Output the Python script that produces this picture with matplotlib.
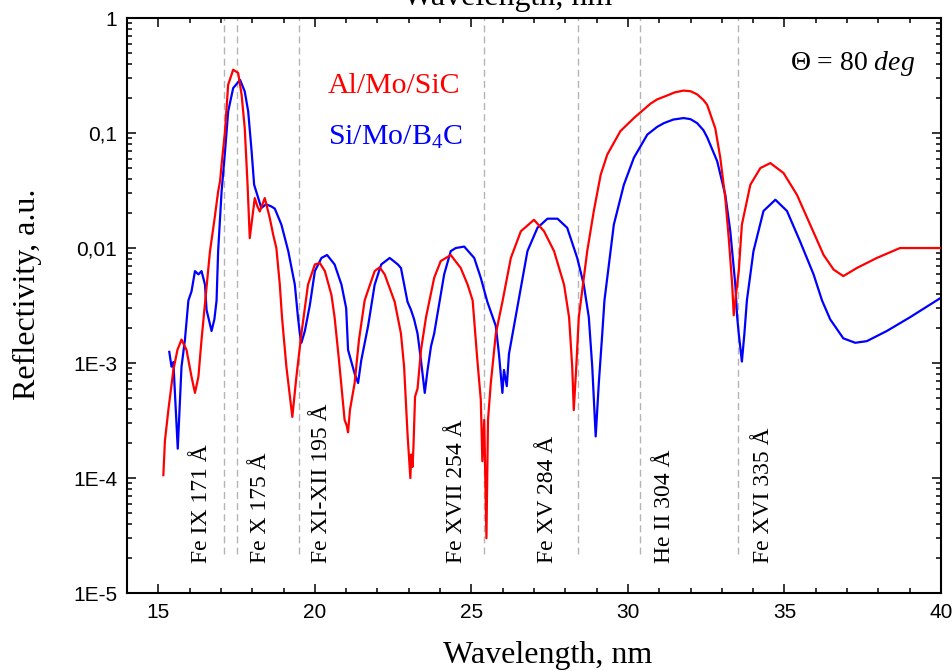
import matplotlib
matplotlib.use("Agg")
import matplotlib.pyplot as plt

plt.rcParams['mathtext.fontset'] = 'custom'
plt.rcParams['mathtext.rm'] = 'Liberation Serif'
plt.rcParams['mathtext.it'] = 'Liberation Serif:italic'

# Al/Mo/SiC reflectivity
al_wl = [15.16, 15.21, 15.32, 15.48, 15.61, 15.74, 15.90, 16.06, 16.17, 16.28,
         16.38, 16.47, 16.65, 16.79, 16.91, 16.97, 17.02, 17.13, 17.23, 17.39,
         17.55, 17.66, 17.76, 17.85, 17.92, 18.00, 18.08, 18.16, 18.24, 18.40,
         18.56, 18.67, 18.77, 18.88, 18.95, 19.09, 19.28, 19.41, 19.57, 19.78,
         20.00, 20.16, 20.32, 20.53, 20.63, 20.77, 20.95, 21.01, 21.06, 21.12,
         21.27, 21.41, 21.59, 21.70, 21.91, 22.07, 22.23, 22.55, 22.75, 22.85,
         22.96, 23.05, 23.08, 23.12, 23.15, 23.20, 23.28, 23.39, 23.55, 23.81,
         24.02, 24.34, 24.66, 24.88, 25.04, 25.19, 25.30, 25.35, 25.41, 25.48,
         25.53, 25.62, 25.78, 25.99, 26.26, 26.58, 27.00, 27.32, 27.64, 27.96,
         28.12, 28.22, 28.27, 28.35, 28.43, 28.70, 28.91, 29.13, 29.34, 29.76,
         30.19, 30.72, 30.93, 31.25, 31.50, 31.78, 32.00, 32.21, 32.41, 32.53,
         32.79, 32.95, 33.11, 33.22, 33.33, 33.38, 33.43, 33.54, 33.64, 33.91,
         34.23, 34.55, 34.97, 35.40, 35.82, 36.25, 36.57, 36.88, 37.31, 37.95,
         38.69, 39.44, 40.00]
al_r = [1.06e-4, 2.1e-4, 3.9e-4, 8.7e-4, 1.3e-3, 1.6e-3, 1.3e-3, 7.6e-4, 5.5e-4, 7.6e-4,
        1.6e-3, 2.9e-3, 9.4e-3, 0.0175, 0.031, 0.038, 0.053, 0.104, 0.263, 0.355,
        0.333, 0.215, 0.11, 0.0355, 0.0122, 0.0182, 0.0272, 0.0232, 0.0208, 0.0272,
        0.0182, 0.013, 0.01, 4.8e-3, 2.5e-3, 9.3e-4, 3.4e-4, 7.6e-4, 1.8e-3, 4.8e-3,
        7.2e-3, 7.4e-3, 6.3e-3, 3.9e-3, 2.5e-3, 1.06e-3, 3.2e-4, 2.9e-4, 2.5e-4, 3.9e-4,
        6.7e-4, 1.6e-3, 3.5e-3, 4.3e-3, 6.3e-3, 6.8e-3, 5.9e-3, 3.4e-3, 1.8e-3, 9.3e-4,
        2.4e-4, 1.0e-4, 1.6e-4, 1.25e-4, 1.9e-4, 5.1e-4, 6.0e-4, 1.3e-3, 2.5e-3, 5.5e-3,
        7.7e-3, 8.7e-3, 6.7e-3, 4.8e-3, 3.5e-3, 1.06e-3, 4.8e-4, 1.4e-4, 3.2e-4, 3.0e-5,
        3.2e-4, 6.7e-4, 1.8e-3, 3.4e-3, 8.2e-3, 0.014, 0.0176, 0.014, 9.4e-3, 4.8e-3,
        2.5e-3, 9.3e-4, 3.9e-4, 9.3e-4, 2.5e-3, 9.4e-3, 0.021, 0.0434, 0.065, 0.104,
        0.135, 0.18, 0.196, 0.212, 0.226, 0.234, 0.231, 0.217, 0.194, 0.176,
        0.11, 0.061, 0.0272, 0.0122, 4.8e-3, 2.6e-3, 3.5e-3, 6.3e-3, 0.016, 0.0355,
        0.0496, 0.0548, 0.0449, 0.029, 0.016, 8.7e-3, 6.5e-3, 5.7e-3, 6.7e-3, 8.2e-3,
        0.01, 0.01, 0.01]

# Si/Mo/B4C reflectivity
si_wl = [15.35, 15.42, 15.48, 15.62, 15.74, 15.85, 15.96, 16.06, 16.17, 16.28,
         16.38, 16.49, 16.54, 16.70, 16.79, 16.86, 16.91, 17.02, 17.13, 17.23,
         17.39, 17.61, 17.76, 17.87, 17.98, 18.06, 18.19, 18.29, 18.44, 18.61,
         18.72, 18.93, 19.15, 19.36, 19.46, 19.52, 19.57, 19.68, 19.84, 20.00,
         20.21, 20.39, 20.63, 20.85, 21.00, 21.06, 21.27, 21.38, 21.48, 21.70,
         21.91, 22.12, 22.39, 22.65, 22.75, 22.96, 23.07, 23.17, 23.28, 23.39,
         23.51, 23.60, 23.71, 23.81, 23.94, 24.13, 24.34, 24.50, 24.77, 25.09,
         25.30, 25.51, 25.78, 25.88, 25.99, 26.04, 26.13, 26.20, 26.36, 26.47,
         26.79, 27.11, 27.43, 27.75, 28.06, 28.38, 28.59, 28.75, 28.86, 28.97,
         29.07, 29.18, 29.25, 29.34, 29.55, 29.87, 30.19, 30.62, 30.93, 31.15,
         31.45, 31.78, 32.00, 32.21, 32.41, 32.53, 32.85, 33.11, 33.27, 33.43,
         33.49, 33.54, 33.64, 33.72, 33.80, 34.01, 34.33, 34.71, 35.08, 35.50,
         35.93, 36.20, 36.46, 36.88, 37.26, 37.63, 38.27, 39.01, 40.00]
si_r = [1.25e-3, 9.3e-4, 1.02e-3, 1.8e-4, 9.3e-4, 1.6e-3, 3.5e-3, 4.2e-3, 6.3e-3, 5.9e-3,
        6.3e-3, 4.8e-3, 2.9e-3, 1.9e-3, 2.4e-3, 3.5e-3, 9.4e-3, 0.031, 0.069, 0.154,
        0.246, 0.29, 0.23, 0.154, 0.069, 0.0355, 0.0272, 0.0223, 0.024, 0.023,
        0.022, 0.016, 9.4e-3, 4.8e-3, 2.5e-3, 1.8e-3, 1.5e-3, 1.9e-3, 3.2e-3, 6.3e-3,
        8.2e-3, 8.7e-3, 7.2e-3, 4.8e-3, 3.0e-3, 1.3e-3, 8.1e-4, 6.7e-4, 1.05e-3, 2.1e-3,
        4.8e-3, 7.2e-3, 8.2e-3, 7.2e-3, 6.7e-3, 3.4e-3, 2.9e-3, 2.4e-3, 1.8e-3, 1.05e-3,
        5.5e-4, 8.7e-4, 1.4e-3, 1.8e-3, 2.9e-3, 5.9e-3, 9.4e-3, 0.01, 0.0103, 8.2e-3,
        5.5e-3, 3.4e-3, 2.1e-3, 1.2e-3, 5.5e-4, 8.7e-4, 6.3e-4, 1.2e-3, 2.1e-3, 3.1e-3,
        9.4e-3, 0.015, 0.018, 0.018, 0.015, 8.2e-3, 4.8e-3, 2.5e-3, 9.3e-4, 2.3e-4,
        6.7e-4, 1.8e-3, 3.5e-3, 5.5e-3, 0.016, 0.0355, 0.061, 0.097, 0.113, 0.122,
        0.131, 0.135, 0.132, 0.122, 0.106, 0.092, 0.057, 0.029, 0.014, 4.8e-3,
        2.5e-3, 1.8e-3, 1.03e-3, 1.8e-3, 3.5e-3, 9.4e-3, 0.021, 0.0263, 0.021, 0.0114,
        5.9e-3, 3.5e-3, 2.4e-3, 1.64e-3, 1.5e-3, 1.55e-3, 1.9e-3, 2.5e-3, 3.7e-3]

# solar lines
line_wl = [17.1, 17.5, 19.5, 25.4, 28.4, 30.4, 33.5]
line_names = ['Fe IX 171 Å', 'Fe X 175 Å', 'Fe XI-XII 195 Å', 'Fe XVII 254 Å',
              'Fe XV 284 Å', 'He II 304 Å', 'Fe XVI 335 Å']
label_wl = [16.37, 18.25, 20.2, 24.53, 27.44, 31.17, 34.32]

yticks = [1e-5, 1e-4, 1e-3, 1e-2, 1e-1, 1]
ytick_labels = ['1E-5', '1E-4', '1E-3', '0,01', '0,1', '1']
xticks = [15, 20, 25, 30, 35, 40]

serif = 'Liberation Serif'
sans = 'Liberation Sans'

fig = plt.figure(figsize=(9.53, 6.71), dpi=100)
ax = fig.add_axes([0.1333, 0.1162, 0.8541, 0.8569])

ax.vlines(line_wl, 2.2e-5, 1, colors='#b4b4b4', linestyles=(0, (5, 3)), lw=1, zorder=1)
ax.plot(al_wl, al_r, color='#ff0000', lw=1.6, zorder=3)
ax.plot(si_wl, si_r, color='#0000ff', lw=1.6, zorder=2)

ax.set_yscale('log')
ax.set_xlim(14, 40)
ax.set_ylim(1e-5, 1)

ax.set_xticks(xticks)
ax.set_xticklabels([str(t) for t in xticks], family=sans, fontsize=15)
ax.set_xticks(range(14, 41), minor=True)
ax.set_yticks(yticks)
ax.set_yticklabels(ytick_labels, family=sans, fontsize=15)
ax.tick_params(which='both', direction='in', top=True, right=True, width=1.1)
ax.tick_params(which='major', length=6.5, pad=7)
ax.tick_params(which='minor', length=3.8)
for s in ax.spines.values():
    s.set_linewidth(1.5)

for x, name in zip(label_wl, line_names):
    ax.text(x, 1.82e-5, name, rotation=90, ha='center', va='bottom',
            family=serif, fontsize=17)

ax.text(0.247, 0.8696, 'Al/Mo/SiC', color='#ff0000', transform=ax.transAxes,
        family=serif, fontsize=21.5, va='baseline')
ax.text(0.247, 0.7791, 'Si/Mo/B$_4$C', color='#0000ff', transform=ax.transAxes,
        family=serif, fontsize=21.5, va='baseline')
ax.text(0.8145, 0.9096, 'Θ = $\\mathit{80\\ deg}$', transform=ax.transAxes,
        family=serif, fontsize=20, va='baseline')

ax.set_xlabel('Wavelength, nm', family=serif, fontsize=23)
ax.xaxis.set_label_coords((548 - 127) / 814, -0.083)
ax.set_ylabel('Reflectivity, a.u.', family=serif, fontsize=23)
ax.yaxis.set_label_coords(-0.105, 0.52)

# top axis title, cut by the figure edge as in the original
fig.text(508 / 953, 1 - 5 / 671, 'Wavelength, nm', family=serif, fontsize=23,
         ha='center', va='baseline')

fig.savefig('out.png', dpi=100)
